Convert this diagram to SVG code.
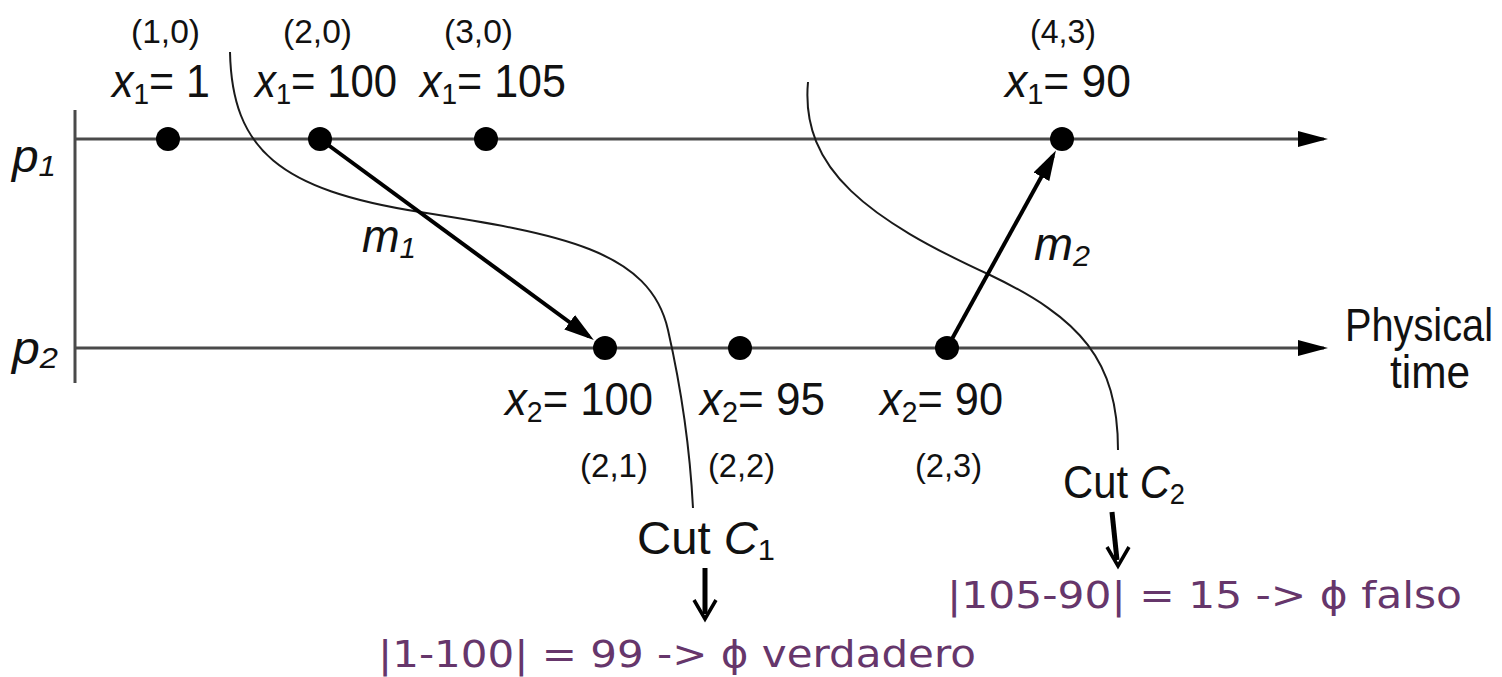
<svg xmlns="http://www.w3.org/2000/svg" width="1502" height="677" viewBox="0 0 1502 677">
<style>
text{font-family:"Liberation Sans Narrow","Liberation Sans",Arial,sans-serif;fill:#111}
.lab{font-size:33px}
.val{font-size:46px}
.it{font-style:italic}
.sub{font-size:30px}
.note{font-family:"DejaVu Sans",sans-serif;font-size:38px;fill:#66366b}
.tl{stroke:#4a4a4a;stroke-width:3;fill:none}
.cut{stroke:#1a1a1a;stroke-width:2;fill:none}
.msg{stroke:#000;stroke-width:4;fill:none}
.dot{fill:#000}
.ptr{stroke:#000;stroke-width:5;fill:none}
.chev{stroke:#000;stroke-width:3.5;fill:none}
</style>
<defs>
<marker id="tri" viewBox="0 -9 30 18" refX="26" refY="0" markerWidth="30" markerHeight="18" markerUnits="userSpaceOnUse" orient="auto">
<path d="M0,-8 L30,0 L0,8 z" fill="#000"/>
</marker>
<marker id="msgHead" viewBox="0 -9 30 18" refX="24" refY="0" markerWidth="30" markerHeight="18" markerUnits="userSpaceOnUse" orient="auto">
<path d="M0,-9 L30,0 L0,9 z" fill="#000"/>
</marker>
</defs>

<g id="axes">
<line class="tl" x1="75" y1="110" x2="75" y2="383" stroke="#7a7a7a"/>
<line class="tl" x1="75" y1="139" x2="1324" y2="139" marker-end="url(#tri)"/>
<line class="tl" x1="75" y1="348" x2="1324" y2="348" marker-end="url(#tri)"/>
<text class="val it" x="12" y="172" font-size="40" textLength="44" lengthAdjust="spacingAndGlyphs">p<tspan class="sub" dy="4">1</tspan></text>
<text class="val it" x="12" y="364" font-size="40" textLength="46" lengthAdjust="spacingAndGlyphs">p<tspan class="sub" dy="4">2</tspan></text>
<text class="val" x="1345" y="341" textLength="148" lengthAdjust="spacingAndGlyphs">Physical</text>
<text class="val" x="1390" y="388" textLength="80" lengthAdjust="spacingAndGlyphs">time</text>
</g>

<g id="connectors">
<path class="cut" d="M230,52 C232,150 280,190 420,212 C560,234 650,250 668,330 C680,383 690,450 693,508"/>
<path class="cut" d="M808,82 C800,170 870,220 990,275 C1080,318 1118,360 1118,450"/>
<line class="msg" x1="320" y1="139" x2="589" y2="336.5" marker-end="url(#msgHead)"/>
<line class="msg" x1="947" y1="348" x2="1053" y2="155.7" marker-end="url(#msgHead)"/>
<text class="val it" x="362" y="252" font-size="40" textLength="54" lengthAdjust="spacingAndGlyphs">m<tspan class="sub" dy="6">1</tspan></text>
<text class="val it" x="1034" y="260" font-size="40" textLength="56" lengthAdjust="spacingAndGlyphs">m<tspan class="sub" dy="6">2</tspan></text>
<line class="ptr" x1="705" y1="568" x2="705" y2="614"/>
<polyline class="chev" points="694,600 705,619 716,600"/>
<line class="ptr" x1="1112" y1="512" x2="1117" y2="560"/>
<polyline class="chev" points="1107,547 1118,566 1129,547"/>
</g>

<g id="e11">
<circle class="dot" cx="168" cy="139" r="12"/>
<text class="lab" x="131" y="43" textLength="69" lengthAdjust="spacingAndGlyphs">(1,0)</text>
<text class="val" x="112" y="97" textLength="98" lengthAdjust="spacingAndGlyphs"><tspan class="it">x</tspan><tspan class="sub" dy="7">1</tspan><tspan dy="-7">= 1</tspan></text>
</g>
<g id="e12">
<circle class="dot" cx="320" cy="139" r="12"/>
<text class="lab" x="283" y="43" textLength="69" lengthAdjust="spacingAndGlyphs">(2,0)</text>
<text class="val" x="255" y="97" textLength="142" lengthAdjust="spacingAndGlyphs"><tspan class="it">x</tspan><tspan class="sub" dy="7">1</tspan><tspan dy="-7">= 100</tspan></text>
</g>
<g id="e13">
<circle class="dot" cx="486" cy="139" r="12"/>
<text class="lab" x="444" y="43" textLength="69" lengthAdjust="spacingAndGlyphs">(3,0)</text>
<text class="val" x="420" y="97" textLength="146" lengthAdjust="spacingAndGlyphs"><tspan class="it">x</tspan><tspan class="sub" dy="7">1</tspan><tspan dy="-7">= 105</tspan></text>
</g>
<g id="e14">
<circle class="dot" cx="1062" cy="139" r="12"/>
<text class="lab" x="1030" y="43" textLength="66" lengthAdjust="spacingAndGlyphs">(4,3)</text>
<text class="val" x="1005" y="97" textLength="126" lengthAdjust="spacingAndGlyphs"><tspan class="it">x</tspan><tspan class="sub" dy="7">1</tspan><tspan dy="-7">= 90</tspan></text>
</g>

<g id="e21">
<circle class="dot" cx="605" cy="348" r="12"/>
<text class="val" x="505" y="415" textLength="148" lengthAdjust="spacingAndGlyphs"><tspan class="it">x</tspan><tspan class="sub" dy="7">2</tspan><tspan dy="-7">= 100</tspan></text>
<text class="lab" x="580" y="477" textLength="68" lengthAdjust="spacingAndGlyphs">(2,1)</text>
</g>
<g id="e22">
<circle class="dot" cx="740" cy="348" r="12"/>
<text class="val" x="700" y="415" textLength="125" lengthAdjust="spacingAndGlyphs"><tspan class="it">x</tspan><tspan class="sub" dy="7">2</tspan><tspan dy="-7">= 95</tspan></text>
<text class="lab" x="708" y="477" textLength="67" lengthAdjust="spacingAndGlyphs">(2,2)</text>
</g>
<g id="e23">
<circle class="dot" cx="947" cy="348" r="12"/>
<text class="val" x="880" y="415" textLength="123" lengthAdjust="spacingAndGlyphs"><tspan class="it">x</tspan><tspan class="sub" dy="7">2</tspan><tspan dy="-7">= 90</tspan></text>
<text class="lab" x="915" y="477" textLength="67" lengthAdjust="spacingAndGlyphs">(2,3)</text>
</g>

<g id="cutC1">
<text class="val" x="637" y="554" textLength="138" lengthAdjust="spacingAndGlyphs">Cut <tspan class="it">C</tspan><tspan class="sub" dy="6">1</tspan></text>
<text class="note" x="378" y="667" textLength="598" lengthAdjust="spacingAndGlyphs">|1-100| = 99 -&gt; ϕ verdadero</text>
</g>
<g id="cutC2">
<text class="val" x="1063" y="498" textLength="122" lengthAdjust="spacingAndGlyphs">Cut <tspan class="it">C</tspan><tspan class="sub" dy="6">2</tspan></text>
<text class="note" x="947" y="608" textLength="515" lengthAdjust="spacingAndGlyphs">|105-90| = 15 -&gt; ϕ falso</text>
</g>
</svg>
